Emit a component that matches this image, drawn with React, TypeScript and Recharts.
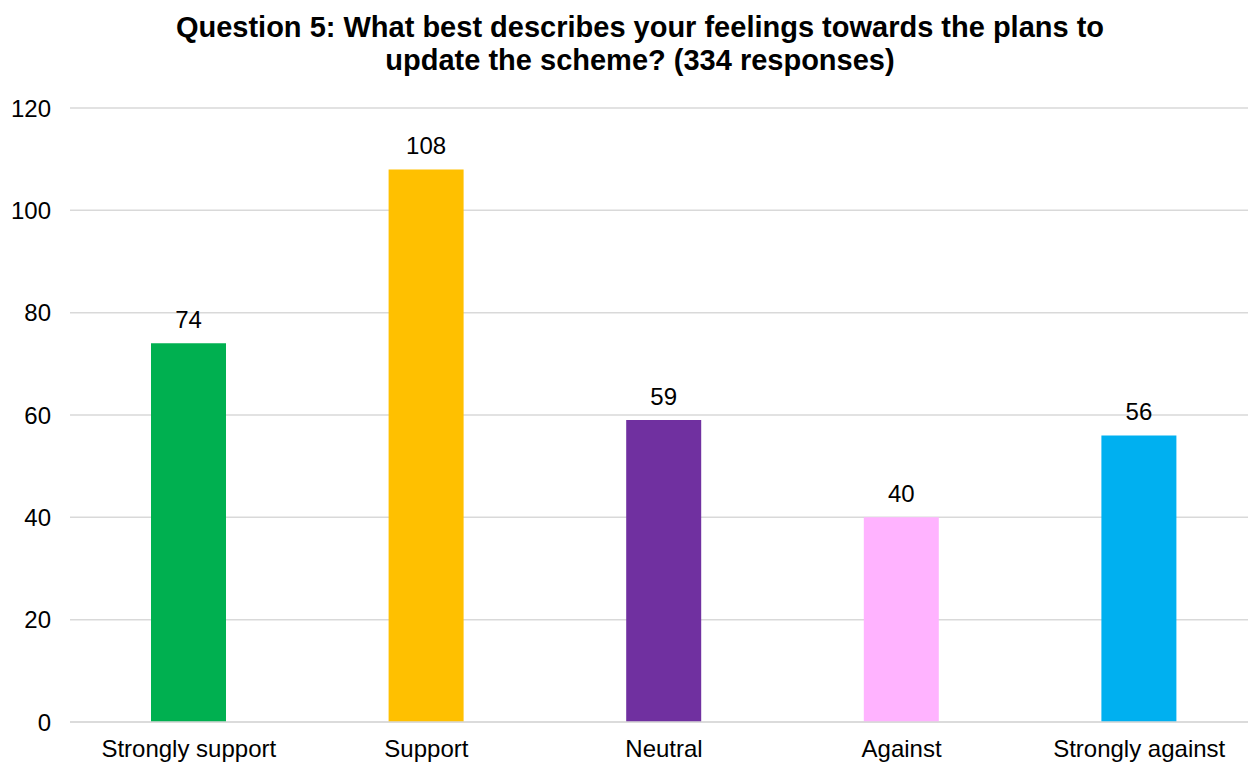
import React from 'react';
import { BarChart, Bar, XAxis, YAxis, CartesianGrid, Cell, LabelList } from 'recharts';

const categories = ['Strongly support', 'Support', 'Neutral', 'Against', 'Strongly against'];
const responses = [74, 108, 59, 40, 56];
const barColors = ['#00B050', '#FFC000', '#7030A0', '#FFB3FF', '#00B0F0'];
const yTicks = [0, 20, 40, 60, 80, 100, 120];

const data = categories.map((name, i) => ({ name, value: responses[i] }));

const FONT = '"Liberation Sans", Arial, sans-serif';

export default function App() {
  return (
    <div style={{ position: 'absolute', left: 0, top: 0, width: 1248, height: 763, overflow: 'hidden', background: '#fff', fontFamily: FONT }}>
      <div style={{ position: 'absolute', left: 0, top: 11, width: 1280, textAlign: 'center', fontWeight: 'bold', fontSize: 29, lineHeight: '33px', color: '#000', whiteSpace: 'nowrap' }}>
        <div>Question 5: What best describes your feelings towards the plans to</div>
        <div>update the scheme? (334 responses)</div>
      </div>
      <div style={{ position: 'absolute', left: 0, top: 0 }}>
        <BarChart width={1270} height={763} data={data} margin={{ top: 108, right: 12, bottom: 0, left: 0 }}>
          <CartesianGrid vertical={false} stroke="#d9d9d9" strokeWidth={1.5} />
          <XAxis dataKey="name" axisLine={{ stroke: '#d9d9d9', strokeWidth: 1.5 }} tickLine={false} height={41}
            tick={{ fill: '#000', fontSize: 24, fontFamily: FONT }} tickMargin={12} interval={0} />
          <YAxis width={70} domain={[0, 120]} ticks={yTicks} axisLine={false} tickLine={false}
            tick={{ fill: '#000', fontSize: 24, fontFamily: FONT }} tickMargin={13} />
          <Bar dataKey="value" barSize={75} isAnimationActive={false}>
            {data.map((d, i) => (
              <Cell key={d.name} fill={barColors[i]} />
            ))}
            <LabelList dataKey="value" position="top" offset={15} fill="#000" fontSize={24} fontFamily={FONT} />
          </Bar>
        </BarChart>
      </div>
    </div>
  );
}
